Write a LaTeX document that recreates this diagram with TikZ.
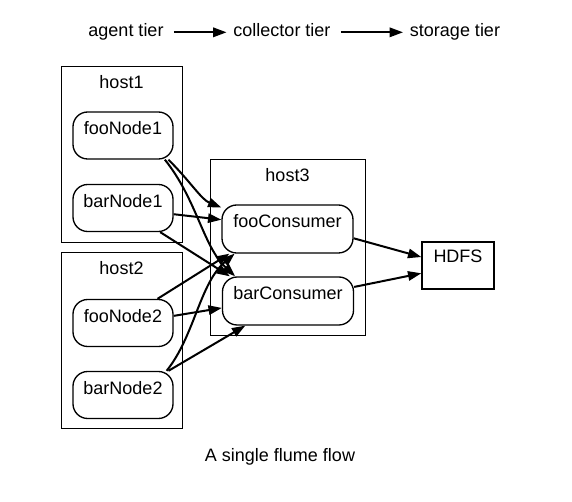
\documentclass[tikz,border=0pt]{standalone}
\usepackage{fontspec}
\setmainfont{Liberation Sans}
\usetikzlibrary{arrows.meta}

\begin{document}
\begin{tikzpicture}[
    x=0.75pt, y=0.75pt,
    every node/.style={font=\fontsize{13.5}{16}\selectfont, inner sep=0pt},
    tier/.style={anchor=base, text height=10pt, text depth=3pt},
    host/.style={draw, line width=0.75pt, minimum width=90.75pt,
                 text height=16.5pt, text depth=115.5pt},
    agent/.style={draw, line width=1pt, rounded corners=11pt,
                  minimum width=75pt, text height=17.25pt, text depth=18pt},
    collector/.style={agent, minimum width=98.25pt, text depth=18.75pt},
    sink/.style={draw, line width=1pt, minimum width=54pt,
                 text height=15.75pt, text depth=19.5pt},
    flow/.style={line width=1.5pt, -{Triangle[length=10pt, width=7pt]}},
    tierflow/.style={flow, shorten <=7.5pt, shorten >=5pt},
  ]
    \useasboundingbox (0,0) rectangle (572,502);

    % tiers
    \node[tier] (agentTier) at (126,465) {agent tier};
    \node[tier] (collectorTier) at (282,465) {collector tier};
    \node[tier] (storageTier) at (455,465) {storage tier};
    \draw[tierflow] (agentTier.east) -- (collectorTier.west);
    \draw[tierflow] (collectorTier.east) -- (storageTier.west);

    % hosts
    \node[host] (host1) at (121.5,347) {host1};
    \node[host] (host2) at (121.5,161) {host2};
    \node[host, minimum width=116.25pt] (host3) at (287.5,254) {host3};

    % agents
    \node[agent] (fooNode1) at (123,366.5) {fooNode1};
    \node[agent] (barNode1) at (123,294) {barNode1};
    \node[agent] (fooNode2) at (123,179) {fooNode2};
    \node[agent] (barNode2) at (123,107) {barNode2};

    % collectors and storage
    \node[collector] (fooConsumer) at (287.5,273) {fooConsumer};
    \node[collector] (barConsumer) at (288,201) {barConsumer};
    \node[sink] (hdfs) at (458,236.5) {HDFS};

    % flows
    \draw[flow] (fooNode1.-28) .. controls +(22,-22) and +(-20,8) .. (fooConsumer.162);
    \draw[flow] (fooNode1.-30) .. controls +(32,-40) and +(-32,30) .. (barConsumer.155);
    \draw[flow] (barNode1.-7) -- (fooConsumer.172);
    \draw[flow] (barNode1.-33) -- (barConsumer.157);
    \draw[flow] (fooNode2.35) -- (fooConsumer.203);
    \draw[flow] (fooNode2.8) -- (barConsumer.186);
    \draw[flow] (barNode2.29) .. controls +(28,35) and +(-35,-30) .. (fooConsumer.205);
    \draw[flow] (barNode2.28) -- (barConsumer.210);
    \draw[flow] (fooConsumer.-8) -- (hdfs.167);
    \draw[flow] (barConsumer.12) -- (hdfs.192);

    \node[anchor=base] (caption) at (280,40) {A single flume flow};
\end{tikzpicture}
\end{document}
